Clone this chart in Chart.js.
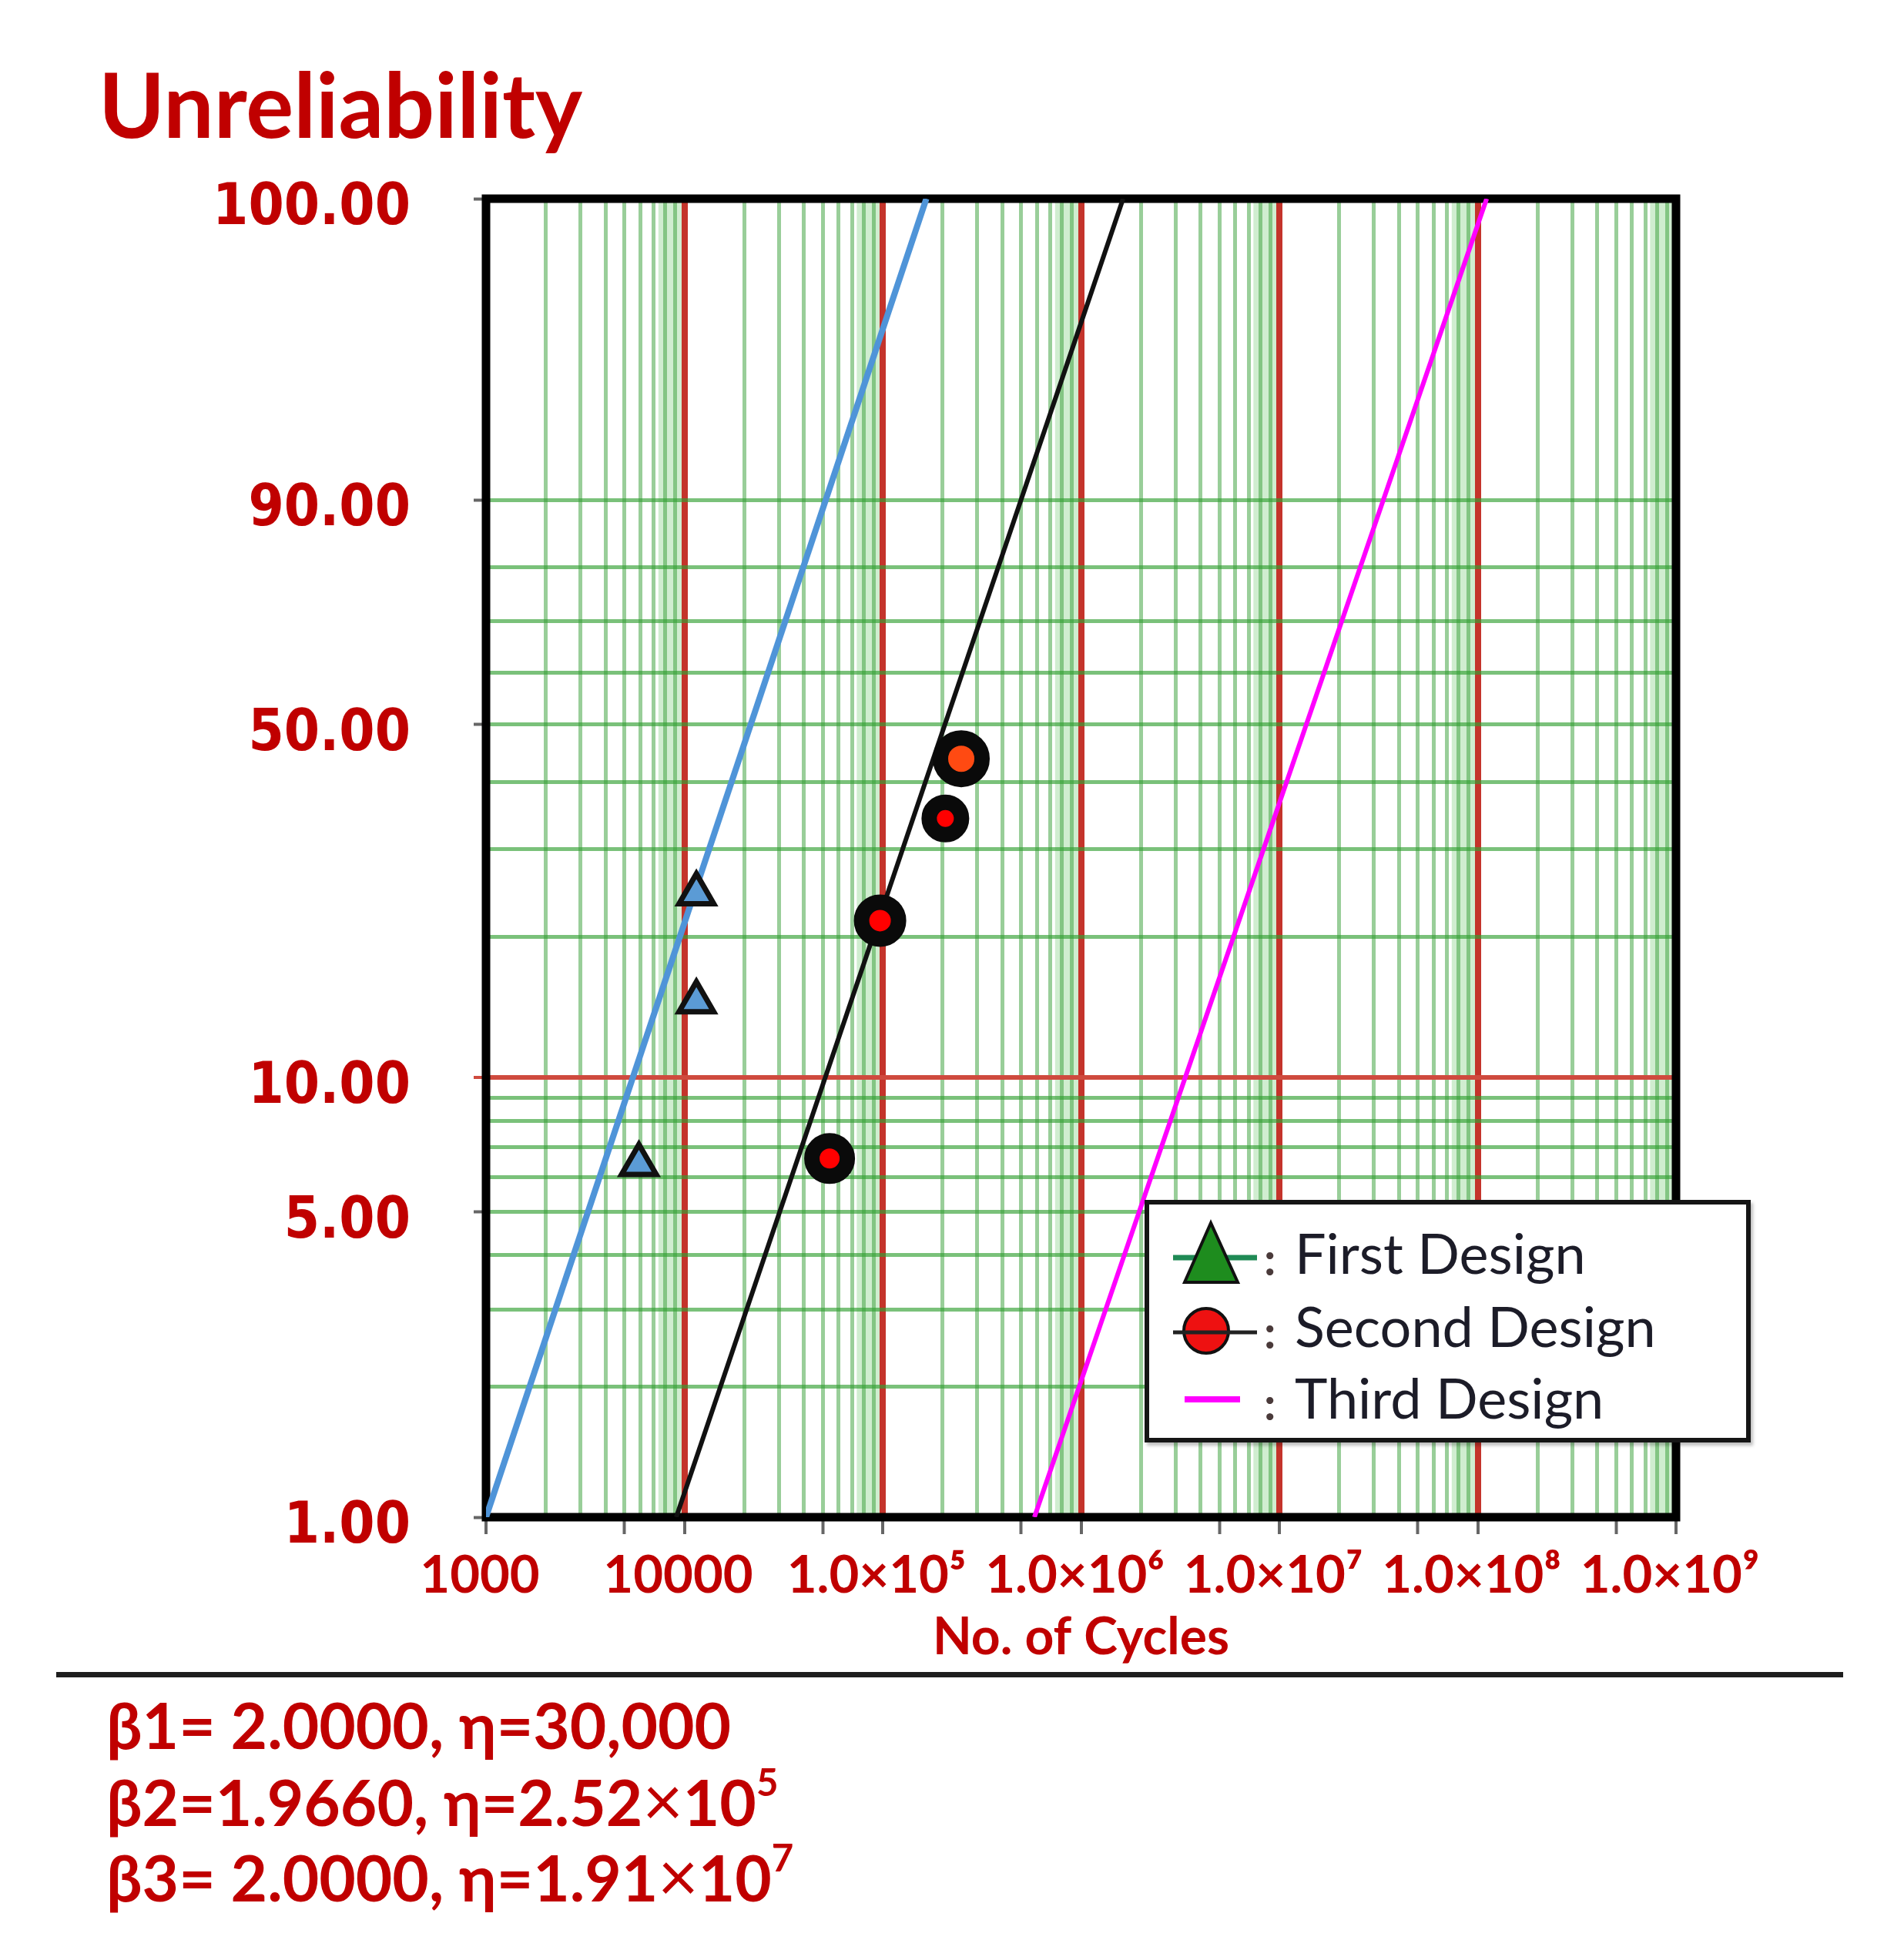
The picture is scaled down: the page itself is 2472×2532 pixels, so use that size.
<!DOCTYPE html>
<html>
<head>
<meta charset="utf-8">
<script src="https://cdn.jsdelivr.net/npm/chart.js@4.4.1/dist/chart.umd.min.js"></script>
<style>
  body { margin: 0; background: #fff; }
  #wrap { position: relative; width: 2472px; height: 2532px; }
  #c { position: absolute; left: 0; top: 0; }
  .txt { position: absolute; white-space: nowrap; line-height: 1; }
  #title { left: 128px; top: 65px; font: bold 116px Lato, "Open Sans", sans-serif; color: #c00000; }
  #legend { position: absolute; left: 1486px; top: 1558px; width: 787px; height: 315px; box-sizing: border-box;
            border: 6px solid #151515; background: #fff; box-shadow: 3px 4px 4px rgba(0,0,0,0.25); }
  .leg { font: 72px Lato, "Open Sans", sans-serif; color: #1c1c28; }
  .colon { font: bold 60px Lato, sans-serif; color: #4a3a3a; }
  #rule { position: absolute; left: 73px; top: 2171px; width: 2320px; height: 7px; background: #1e1e1e; }
  .par { left: 138px; font: bold 82px Lato, "Open Sans", sans-serif; color: #c00000; }
  .par .x { font-weight: normal; font-size: 1.1em; }
  .par sup { font-size: 0.6em; vertical-align: 0; position: relative; top: -0.8em; }
  #marks { position: absolute; left: 0; top: 0; pointer-events: none; }
</style>
</head>
<body>
<div id="wrap">
  <canvas id="c" width="2472" height="2532"></canvas>
  <div class="txt" id="title">Unreliability</div>
  <div id="legend"></div>
  <svg id="marks" width="2472" height="2532">
    <!-- legend symbols -->
    <line x1="1523" y1="1633" x2="1632" y2="1633" stroke="#1f8a55" stroke-width="7"/>
    <polygon points="1572,1588 1538,1665 1607,1665" fill="#1e8c1e" stroke="#111" stroke-width="4"/>
    <circle cx="1566" cy="1728" r="29" fill="#ee1111" stroke="#111" stroke-width="4"/>
    <line x1="1523" y1="1730" x2="1632" y2="1730" stroke="#222" stroke-width="5"/>
    <line x1="1538" y1="1817" x2="1610" y2="1817" stroke="#ff00ff" stroke-width="8"/>
  </svg>
  <div class="txt colon" style="left:1641px;top:1597px">:</div>
  <div class="txt colon" style="left:1641px;top:1692px">:</div>
  <div class="txt colon" style="left:1641px;top:1785px">:</div>
  <div class="txt leg" id="leg0" style="left:1681px;top:1583px"></div>
  <div class="txt leg" id="leg1" style="left:1681px;top:1678px"></div>
  <div class="txt leg" id="leg2" style="left:1681px;top:1771px"></div>
  <div id="rule"></div>
  <div class="txt par" style="top:2190px">β1= 2.0000, η=30,000</div>
  <div class="txt par" style="top:2282px">β2=1.9660, η=2.52<span class="x">×</span>10<sup>5</sup></div>
  <div class="txt par" style="top:2380px">β3= 2.0000, η=1.91<span class="x">×</span>10<sup>7</sup></div>
</div>
<script>
// x axis: decades (log scale) and their labels
const xDecades = [1000, 10000, 1e5, 1e6, 1e7, 1e8, 1e9];
const xTickLabels = ["1000", "10000", "1.0×10⁵", "1.0×10⁶", "1.0×10⁷", "1.0×10⁸", "1.0×10⁹"];
const xMinors = [2, 3, 4, 5, 6, 7, 8, 9];

// y axis: unreliability in %, Weibull probability paper
const yGridPercents = [1, 2, 3, 4, 5, 6, 7, 8, 9, 10, 20, 30, 40, 50, 60, 70, 80, 90, 99.999];
const yLabelPercents = [1, 5, 10, 50, 90, 99.999];
const yTickLabels = ["1.00", "5.00", "10.00", "50.00", "90.00", "100.00"];

// test points
const firstCycles = [11500, 11500, 5900];
const firstUnrel = [24.5, 14.6, 6.4];
const secondCycles = [249000, 207000, 97000, 54000];
const secondUnrel = [43.9, 34.3, 21.6, 6.6];

// fitted lines (end points)
const firstFitCycles = [1000, 166000];
const firstFitUnrel = [1, 99.999];
const secondFitCycles = [9100, 1630000];
const secondFitUnrel = [1, 99.999];
const thirdFitCycles = [582000, 111000000];
const thirdFitUnrel = [1, 99.999];

const legendLabels = ["First Design", "Second Design", "Third Design"];

legendLabels.forEach((t, i) => { document.getElementById("leg" + i).textContent = t; });

// Weibull transform: ln(-ln(1-F))
function weibull(p) {
  return Math.log(-Math.log(1 - p / 100));
}
function toPoints(xs, ps) {
  return xs.map((x, i) => ({ x: x, y: weibull(ps[i]) }));
}
function isDecade(v) {
  const l = Math.log10(v);
  return Math.abs(l - Math.round(l)) < 1e-9;
}

// all vertical grid positions
const xGridValues = [];
xDecades.forEach((d, i) => {
  xGridValues.push(d);
  if (i < xDecades.length - 1) xMinors.forEach(m => xGridValues.push(m * d));
});

const xMin = xDecades[0], xMax = xDecades[xDecades.length - 1];
const yMin = weibull(yGridPercents[0]), yMax = weibull(yGridPercents[yGridPercents.length - 1]);
const red = "#c00000";

// shading near decade ends and the thick frame
const framePlugin = {
  id: "frame",
  beforeDraw(chart) {
    const { ctx, chartArea: a, scales: { x } } = chart;
    ctx.save();
    ctx.fillStyle = "rgba(150,215,150,0.45)";
    xDecades.slice(0, -1).forEach(d => {
      const x0 = x.getPixelForValue(d * 7.4);
      const x1 = x.getPixelForValue(d * 9.7);
      ctx.fillRect(x0, a.top, x1 - x0, a.bottom - a.top);
    });
    ctx.restore();
  },
  beforeDatasetsDraw(chart) {
    const { ctx, chartArea: a } = chart;
    ctx.save();
    ctx.lineWidth = 11;
    ctx.strokeStyle = "#000";
    ctx.strokeRect(a.left, a.top, a.right - a.left, a.bottom - a.top);
    ctx.restore();
  }
};

new Chart(document.getElementById("c"), {
  type: "scatter",
  data: {
    datasets: [
      {
        label: legendLabels[0],
        data: toPoints(firstCycles, firstUnrel),
        pointStyle: "triangle",
        pointRadius: 26,
        pointBackgroundColor: "#5b9bd5",
        pointBorderColor: "#111",
        pointBorderWidth: 7,
        order: 0
      },
      {
        label: legendLabels[1],
        data: toPoints(secondCycles, secondUnrel),
        pointStyle: "circle",
        pointRadius: [27, 21, 24, 23],
        pointBackgroundColor: ["#ff4a12", "#ff0000", "#ff0000", "#ff0000"],
        pointBorderColor: "#0a0a0a",
        pointBorderWidth: 20,
        order: 0
      },
      {
        type: "line",
        data: toPoints(firstFitCycles, firstFitUnrel),
        borderColor: "#4f94d8",
        borderWidth: 8,
        pointRadius: 0,
        order: 1
      },
      {
        type: "line",
        data: toPoints(secondFitCycles, secondFitUnrel),
        borderColor: "#111",
        borderWidth: 6,
        pointRadius: 0,
        order: 1
      },
      {
        type: "line",
        data: toPoints(thirdFitCycles, thirdFitUnrel),
        borderColor: "#ff00ff",
        borderWidth: 6,
        pointRadius: 0,
        order: 1
      }
    ]
  },
  options: {
    responsive: false,
    animation: false,
    devicePixelRatio: 1,
    layout: { padding: { top: 258, right: 296, bottom: 332, left: 0 } },
    plugins: { legend: { display: false }, tooltip: { enabled: false } },
    scales: {
      x: {
        type: "logarithmic",
        min: xMin,
        max: xMax,
        afterBuildTicks: s => { s.ticks = xGridValues.map(v => ({ value: v })); },
        afterFit: s => { s.height = 230; },
        border: { display: false },
        grid: {
          color: c => {
            const v = c.tick.value;
            if (v <= xMin || v >= xMax) return "rgba(0,0,0,0)";
            return isDecade(v) ? "#c4342b" : "rgba(70,165,70,0.55)";
          },
          lineWidth: c => isDecade(c.tick.value) ? 8 : 5,
          tickLength: 22,
          tickWidth: 4,
          tickColor: c => {
            const v = c.tick.value;
            return (isDecade(v) || isDecade(v * 2)) ? "#666" : "rgba(0,0,0,0)";
          }
        },
        ticks: {
          autoSkip: false,
          maxRotation: 0,
          padding: 14,
          labelOffset: -8,
          color: red,
          font: { family: "Lato", weight: "bold", size: 67 },
          callback: v => {
            const k = xDecades.indexOf(v);
            return k >= 0 ? xTickLabels[k] : "";
          }
        },
        title: {
          display: true,
          text: "No. of Cycles",
          color: red,
          font: { family: "Lato", weight: "bold", size: 66 },
          padding: { top: 0, bottom: 34 }
        }
      },
      y: {
        type: "linear",
        min: yMin,
        max: yMax,
        afterBuildTicks: s => { s.ticks = yGridPercents.map(p => ({ value: weibull(p) })); },
        afterFit: s => { s.width = 631; },
        border: { display: false },
        grid: {
          color: c => {
            const p = yGridPercents[c.index];
            if (c.index === 0 || c.index === yGridPercents.length - 1) return "rgba(0,0,0,0)";
            return p === 10 ? "#cf4a3e" : "rgba(50,160,50,0.65)";
          },
          lineWidth: c => yGridPercents[c.index] === 10 ? 6 : 5,
          tickLength: 16,
          tickWidth: 4,
          tickColor: c => {
            const p = yGridPercents[c.index];
            if (p === 10) return "#cf4a3e";
            return yLabelPercents.includes(p) ? "#666" : "rgba(0,0,0,0)";
          }
        },
        ticks: {
          autoSkip: false,
          padding: 82,
          labelOffset: 14,
          color: red,
          font: { family: "'DejaVu Sans Condensed', 'DejaVu Sans'", weight: "bold", size: 74 },
          callback: (v, i) => {
            const k = yLabelPercents.indexOf(yGridPercents[i]);
            return k >= 0 ? yTickLabels[k] : "";
          }
        }
      }
    }
  },
  plugins: [framePlugin]
});
</script>
</body>
</html>
